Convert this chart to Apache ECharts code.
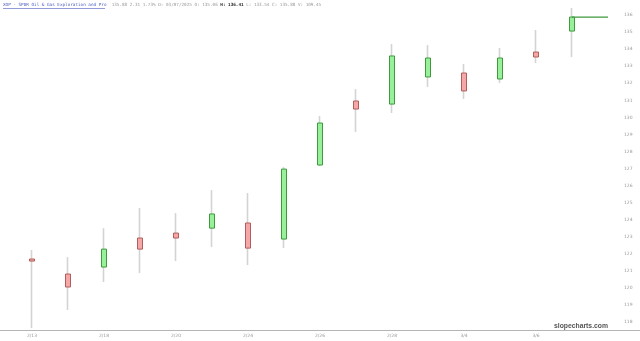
<!DOCTYPE html>
<html><head><meta charset="utf-8">
<script src="https://cdn.jsdelivr.net/npm/echarts@6/dist/echarts.min.js"></script>
<style>html,body{margin:0;padding:0;background:#fff}#c{width:640px;height:341px}</style>
</head><body><div id="c"></div><script>
const dates = ['2/13','2/14','2/18','2/19','2/20','2/21','2/24','2/25','2/26','2/27','2/28','3/3','3/4','3/5','3/6','3/7'];
const opens  = [121.70,120.82,121.23,122.93,123.22,123.51,123.81,122.87,127.21,130.96,130.78,132.37,132.60,132.25,133.83,135.06];
const closes = [121.58,120.06,122.28,122.28,122.93,124.34,122.34,126.97,129.67,130.49,133.60,133.48,131.55,133.48,133.54,135.88];
const lows   = [117.65,118.71,120.35,120.88,121.58,122.40,121.35,122.34,127.15,129.14,130.26,131.78,131.08,132.01,133.19,133.54];
const highs  = [122.23,121.81,123.51,124.69,124.39,125.74,125.57,127.09,130.08,131.66,134.30,134.24,133.13,134.07,135.12,136.41];
const headerTitle = 'XOP - SPDR Oil & Gas Exploration and Pro';
const headerStats = '135.88 2.31 1.73% D: 03/07/2025 O: 135.06 ';
const headerHigh = 'H: 136.41';
const headerRest = ' L: 133.54 C: 135.88 V: 109.45';

const cats = dates.concat(['']);
const wickData = dates.map((d,i)=>[opens[i],closes[i],lows[i],highs[i]]);
const bodyData = dates.map((d,i)=>[opens[i],closes[i],Math.min(opens[i],closes[i]),Math.max(opens[i],closes[i])]);
const last = closes[closes.length-1];
const lastLine = dates.map(()=>null); lastLine[lastLine.length-1]=last; lastLine.push(last);

const chart = echarts.init(document.getElementById('c'), null, {renderer:'canvas'});
chart.setOption({
  animation:false,
  backgroundColor:'#fff',
  grid:[{left:14,right:14,top:0,bottom:11},{left:0,right:0,bottom:11,height:0}],
  xAxis:[{
    type:'category', data:cats, gridIndex:0, boundaryGap:true,
    axisLine:{show:false}, axisTick:{show:false}, splitLine:{show:false},
    axisLabel:{interval:0, formatter:(v,i)=> (i%2===0 && i<16)? v : '', fontSize:4.5, color:'#999', margin:3, fontFamily:'DejaVu Sans'}
  },{
    type:'value', gridIndex:1, min:0, max:1,
    axisLine:{show:true, lineStyle:{color:'#b5b5b5', width:1}}, axisTick:{show:false}, axisLabel:{show:false}, splitLine:{show:false}
  }],
  yAxis:[{
    type:'value', position:'right', gridIndex:0, min:117.54, max:136.88, minInterval:1, maxInterval:1, scale:true,
    axisLine:{show:false}, axisTick:{show:false}, splitLine:{show:false},
    axisLabel:{fontSize:4.5, color:'#999', margin:-2, showMinLabel:false, showMaxLabel:false, fontFamily:'DejaVu Sans'}
  },{
    type:'value', gridIndex:1, show:false
  }],
  series:[{
    type:'candlestick', name:'wick', data:wickData, barWidth:1,
    itemStyle:{color:'#d4d4d4', color0:'#d4d4d4', borderColor:'#d4d4d4', borderColor0:'#d4d4d4', borderWidth:1.6}
  },{
    type:'candlestick', name:'body', data:bodyData, barWidth:6,
    itemStyle:{color:'#98f098', color0:'#f6a8a8', borderColor:'#3f9a3f', borderColor0:'#b25c5c', borderWidth:1}
  },{
    type:'line', data:lastLine, symbol:'none', lineStyle:{color:'#3c9a3c', width:1.3}, z:5
  }],
  graphic:[{
    type:'text', left:3, top:3,
    style:{
      text:'{t|'+headerTitle+'}{s|  '+headerStats+'}{h|'+headerHigh+'}{s|'+headerRest+'}',
      rich:{
        t:{fontFamily:'DejaVu Sans Mono', fontSize:4.3, fill:'#4a5cc0'},
        s:{fontFamily:'DejaVu Sans Mono', fontSize:4.3, fill:'#999'},
        h:{fontFamily:'DejaVu Sans Mono', fontSize:4.3, fill:'#222', fontWeight:'bold'}
      }
    }
  },{
    type:'line', shape:{x1:3,y1:8.5,x2:105,y2:8.5}, style:{stroke:'#4a5cc0', lineWidth:0.6}
  },{
    type:'text', right:32, top:323,
    style:{text:'slopecharts.com', fontFamily:'Liberation Sans', fontSize:6.8, fontWeight:'bold', fill:'#555'}
  }]
});
</script></body></html>
